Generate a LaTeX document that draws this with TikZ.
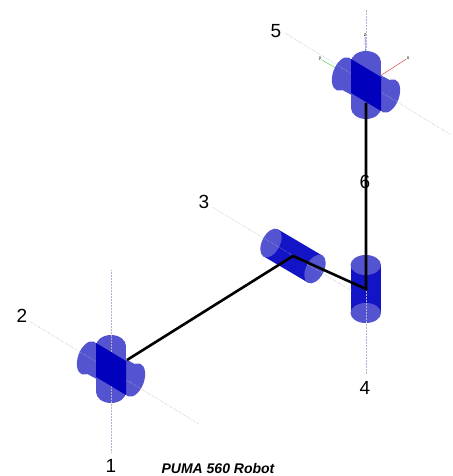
\documentclass[tikz,border=0pt]{standalone}
\usepackage{fontspec}
\setmainfont{Liberation Sans}
\usepackage{tikz}
\definecolor{capblue}{rgb}{0.33,0.33,0.82}
\definecolor{bodyblue}{rgb}{0.08,0.08,0.78}
\definecolor{coreblue}{rgb}{0.0,0.0,0.74}
\definecolor{axisgray}{rgb}{0.70,0.70,0.80}

\begin{document}
\begin{tikzpicture}[
            x = 1pt,
            y = -1pt,
            semithick % line style
        ]

        \tikzstyle{every node}=[inner sep = 0pt]
        \tikzstyle{joint label}=[font = \fontsize{19}{19}\selectfont]
        \tikzstyle{frame label}=[font = \fontsize{5}{5}\selectfont]
        \tikzstyle{joint cap}=[fill = capblue]
        \tikzstyle{joint body}=[fill = bodyblue]
        \tikzstyle{joint core}=[fill = coreblue]
        \tikzstyle{joint axis}=[axisgray, densely dotted, line width = 0.5pt]
        \tikzstyle{link}=[black, line width = 2.6pt, line join = miter]

        \useasboundingbox (0,0) rectangle (452,476);

        % joint centres
        \coordinate (J1) at (111,369);
        \coordinate (J3) at (293,256);
        \coordinate (J4) at (366,289);
        \coordinate (J5) at (366,85);

        % axis ends
        \coordinate (A1a) at (111,270);
        \coordinate (A1b) at (111,452);
        \coordinate (A2a) at (29,321);
        \coordinate (A2b) at (199,424);
        \coordinate (A3a) at (212,207);
        \coordinate (A3b) at (352,291);
        \coordinate (A4a) at (366,289);
        \coordinate (A4b) at (366,374);
        \coordinate (A5a) at (285,33);
        \coordinate (A5b) at (451,135);
        \coordinate (A6a) at (366,10);
        \coordinate (A6b) at (366,50);

        % labels
        \node[joint label] (L1) at (111,466) {1};
        \node[joint label] (L2) at (22,316) {2};
        \node[joint label] (L3) at (204,202) {3};
        \node[joint label] (L4) at (365,388) {4};
        \node[joint label] (L5) at (276,31) {5};
        \node (T) at (218,468) {\fontsize{14}{14}\selectfont\bfseries\itshape PUMA 560 Robot};

        % tool frame
        \node[frame label] (X) at (408,58) {x};
        \node[frame label] (Y) at (320,59) {y};
        \node[frame label] (Z) at (365,35) {z};
        \draw[red!70!gray, thin] (J5) -- (X);
        \draw[green!60!gray, thin] (J5) -- (Y);
        \draw[blue!70!gray, thin] (J5) -- (Z);

        % crossed joints, bottom and top
        \foreach \cx/\cy in {111/369,366/85}{
            \begin{scope}[shift={(\cx,\cy)}]
                \fill[joint cap] (-15,-23) rectangle (15,23);
                \fill[joint cap] (0,-23) ellipse [x radius=15pt, y radius=11pt];
                \fill[joint cap] (0,23) ellipse [x radius=15pt, y radius=11pt];
                \fill[joint cap] (-15,-26) -- (31,-1) -- (15,26) -- (-31,1) -- cycle;
                \fill[joint cap] (-23,-11) ellipse [x radius=10pt, y radius=17.5pt, rotate=-20];
                \fill[joint cap] (23,11) ellipse [x radius=10pt, y radius=17.5pt, rotate=-20];
            \end{scope}
        }

        % elbow joint
        \fill[joint body] (279,230) -- (323,256) -- (307,282) -- (263,256) -- cycle;
        \fill[joint cap] (271,243) ellipse [x radius=9pt, y radius=15.5pt, rotate=-27];
        \fill[joint cap] (315,269) ellipse [x radius=9pt, y radius=15.5pt, rotate=-27];

        % wrist joint
        \fill[joint body] (350.5,265) rectangle (381,313);
        \fill[joint cap] (365.75,265) ellipse [x radius=15.25pt, y radius=10pt];
        \fill[joint cap] (365.75,313) ellipse [x radius=15.25pt, y radius=10pt];

        % joint axes
        \draw[joint axis] (A1a) -- (A1b);
        \draw[joint axis] (A2a) -- (A2b);
        \draw[joint axis] (A3a) -- (A3b);
        \draw[joint axis] (A4a) -- (A4b);
        \draw[joint axis] (A5a) -- (A5b);
        \draw[joint axis] (A6a) -- (A6b);

        % overlap of the crossed cylinders
        \foreach \cx/\cy in {111/369,366/85}{
            \begin{scope}[shift={(\cx,\cy)}]
                \fill[joint core] (-15,-26) -- (15,-8) -- (15,26) -- (-15,8) -- cycle;
            \end{scope}
        }

        % links
        \coordinate (S) at (127,360);
        \coordinate (E) at (366,103);
        \draw[link] (S) -- (J3) -- (J4) -- (E);

        \node[joint label] (L6) at (365,182) {6};
\end{tikzpicture}
\end{document}
